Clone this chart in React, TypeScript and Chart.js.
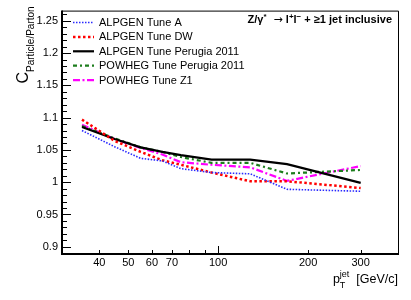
import React, { useEffect, useRef } from "react";
import { Chart, registerables } from "chart.js";

Chart.register(...registerables);

const FONT = "'Liberation Sans', Arial, Helvetica, sans-serif";

// jet pT bin positions (GeV/c)
const ptValues = [35, 45, 55, 65, 75, 95, 128, 170, 300];

// C_{Particle/Parton} per tune
const alpgenTuneA = [1.080, 1.055, 1.037, 1.033, 1.021, 1.015, 1.013, 0.989, 0.986];
const alpgenTuneDW = [1.097, 1.064, 1.047, 1.034, 1.027, 1.015, 1.0015, 1.0015, 0.991];
const alpgenPerugia = [1.0855, 1.067, 1.054, 1.047, 1.042, 1.035, 1.035, 1.028, 0.999];
const powhegPerugia = [1.087, 1.068, 1.054, 1.047, 1.039, 1.030, 1.030, 1.0135, 1.019];
const powhegZ1 = [1.089, 1.067, 1.053, 1.043, 1.031, 1.027, 1.023, 1.002, 1.025];

const seriesLabels = [
  "ALPGEN Tune A",
  "ALPGEN Tune DW",
  "ALPGEN Tune Perugia 2011",
  "POWHEG Tune Perugia 2011",
  "POWHEG Tune Z1",
];

const yTickValues = [0.9, 0.95, 1, 1.05, 1.1, 1.15, 1.2, 1.25];
const yTickLabels = ["0.9", "0.95", "1", "1.05", "1.1", "1.15", "1.2", "1.25"];
const xTickValues = [40, 50, 60, 70, 100, 200, 300];
const xTickLabels = ["40", "50", "60", "70", "100", "200", "300"];
const xMinorTickValues = [40, 50, 60, 70, 80, 90, 200, 300];
const xMajorTickValues = [100];

const styles = [
  { color: "#2a2aff", dash: [1.5, 1.5], width: 1.6 },
  { color: "#ff0000", dash: [2.5, 2.5], width: 2.5 },
  { color: "#000000", dash: [], width: 2.2 },
  { color: "#1d7d1d", dash: [4, 3, 2, 3], width: 2.2 },
  { color: "#ff00ff", dash: [7, 2.5, 2, 2.5], width: 2.2 },
];

const seriesValues = [alpgenTuneA, alpgenTuneDW, alpgenPerugia, powhegPerugia, powhegZ1];

type Seg = { t: string; mode?: "sup" | "sub"; weight?: string; family?: string };

function drawSegments(
  ctx: CanvasRenderingContext2D,
  segs: Seg[],
  xRight: number,
  baseline: number,
  size: number,
  weight: string
) {
  const small = Math.round(size * 0.72);
  const fontOf = (s: Seg) =>
    `${s.weight ?? weight} ${s.mode ? small : size}px ${s.family ?? FONT}`;
  const widthOf = (s: Seg) => {
    ctx.font = fontOf(s);
    return ctx.measureText(s.t).width;
  };
  const total = segs.reduce((acc, s) => acc + widthOf(s), 0);
  let x = xRight - total;
  ctx.textAlign = "left";
  ctx.textBaseline = "alphabetic";
  for (const s of segs) {
    const w = widthOf(s);
    ctx.font = fontOf(s);
    const dy = s.mode === "sup" ? -size * 0.4 : s.mode === "sub" ? size * 0.3 : 0;
    ctx.fillText(s.t, x, baseline + dy);
    x += w;
  }
}

const overlayPlugin = {
  id: "rootOverlay",
  afterDraw(chart: any) {
    const { ctx, chartArea: a, scales } = chart;
    const xs = scales.x;
    const ys = scales.y;
    ctx.save();
    ctx.strokeStyle = "#000";
    ctx.fillStyle = "#000";

    // frame
    ctx.lineWidth = 1;
    ctx.beginPath();
    ctx.moveTo(a.left, a.top + 0.5);
    ctx.lineTo(a.right + 0.5, a.top + 0.5);
    ctx.lineTo(a.right + 0.5, a.bottom);
    ctx.stroke();
    ctx.lineWidth = 2;
    ctx.beginPath();
    ctx.moveTo(a.left, a.top);
    ctx.lineTo(a.left, a.bottom);
    ctx.lineTo(a.right + 1, a.bottom);
    ctx.stroke();

    // y ticks (major on labels, minor every 0.01)
    ctx.lineWidth = 1;
    for (let i = 89; i <= 126; i++) {
      const v = i / 100;
      const py = Math.round(ys.getPixelForValue(v)) + 0.5;
      const major = i % 5 === 0;
      ctx.beginPath();
      ctx.moveTo(a.left, py);
      ctx.lineTo(a.left + (major ? 9 : 5), py);
      ctx.stroke();
    }

    // x ticks
    for (const v of xMinorTickValues) {
      const px = Math.round(xs.getPixelForValue(v)) + 0.5;
      ctx.beginPath();
      ctx.moveTo(px, a.bottom);
      ctx.lineTo(px, a.bottom - 4);
      ctx.stroke();
    }
    for (const v of xMajorTickValues) {
      const px = Math.round(xs.getPixelForValue(v)) + 0.5;
      ctx.beginPath();
      ctx.moveTo(px, a.bottom);
      ctx.lineTo(px, a.bottom - 8);
      ctx.stroke();
    }

    // legend
    const legendTop = 22.5;
    const legendStep = 14.4;
    seriesLabels.forEach((label, i) => {
      const st = styles[i];
      const ly = legendTop + i * legendStep;
      ctx.save();
      ctx.strokeStyle = st.color;
      ctx.lineWidth = st.width;
      ctx.setLineDash(st.dash);
      ctx.beginPath();
      ctx.moveTo(73, ly);
      ctx.lineTo(94, ly);
      ctx.stroke();
      ctx.restore();
      ctx.font = `11px ${FONT}`;
      ctx.textAlign = "left";
      ctx.textBaseline = "middle";
      ctx.fillText(label, 99, ly + 0.5);
    });

    // process label
    drawSegments(
      ctx,
      [
        { t: "Z/γ" },
        { t: "*", mode: "sup" },
        { t: "  →", weight: "normal", family: "'DejaVu Sans', sans-serif" },
        { t: " l" },
        { t: "+", mode: "sup" },
        { t: "l" },
        { t: "−", mode: "sup" },
        { t: " + ≥1 jet inclusive" },
      ],
      392,
      23,
      11,
      "bold"
    );

    // x-axis title: p_T^jet [GeV/c]
    {
      const size = 12.5;
      const small = 9;
      ctx.textBaseline = "alphabetic";
      ctx.textAlign = "left";
      ctx.font = `${size}px ${FONT}`;
      const unit = "  [GeV/c]";
      const wUnit = ctx.measureText(unit).width;
      const wP = ctx.measureText("p").width;
      ctx.font = `${small}px ${FONT}`;
      const wJet = ctx.measureText("jet").width;
      const baseline = 283;
      const xEnd = 398;
      const xUnit = xEnd - wUnit;
      const xSup = xUnit - wJet;
      const xP = xSup - wP;
      ctx.font = `${size}px ${FONT}`;
      ctx.fillText("p", xP, baseline);
      ctx.fillText(unit, xUnit, baseline);
      ctx.font = `${small}px ${FONT}`;
      ctx.fillText("jet", xSup, baseline - 6);
      ctx.fillText("T", xSup, baseline + 5);
    }

    // y-axis title: C_{Particle/Parton}
    {
      ctx.save();
      ctx.translate(27.5, 83.5);
      ctx.rotate(-Math.PI / 2);
      ctx.textAlign = "left";
      ctx.textBaseline = "alphabetic";
      ctx.font = `16px ${FONT}`;
      ctx.fillText("C", 0, 0);
      const wC = ctx.measureText("C").width;
      ctx.font = `10px ${FONT}`;
      ctx.fillText("Particle/Parton", wC, 6.5);
      ctx.restore();
    }

    ctx.restore();
  },
};

export default function App() {
  const canvasRef = useRef<HTMLCanvasElement | null>(null);

  useEffect(() => {
    const canvas = canvasRef.current;
    if (!canvas) return;
    const datasets = seriesLabels.map((label, i) => ({
      label,
      data: ptValues.map((x, j) => ({ x, y: seriesValues[i][j] })),
      borderColor: styles[i].color,
      backgroundColor: styles[i].color,
      borderWidth: styles[i].width,
      borderDash: styles[i].dash,
      pointRadius: 0,
      tension: 0,
      fill: false,
    }));
    const chart = new Chart(canvas, {
      type: "line",
      data: { datasets },
      options: {
        animation: false,
        responsive: false,
        devicePixelRatio: 1,
        layout: { padding: { top: 8, right: 13, left: 0, bottom: 0 } },
        plugins: { legend: { display: false }, tooltip: { enabled: false } },
        scales: {
          x: {
            type: "logarithmic",
            min: 30,
            max: 400,
            grid: { display: false, drawTicks: false },
            border: { display: false },
            afterBuildTicks: (s: any) => {
              s.ticks = xTickValues.map((v) => ({ value: v }));
            },
            afterFit: (s: any) => {
              s.height = 46;
            },
            ticks: {
              autoSkip: false,
              maxRotation: 0,
              minRotation: 0,
              padding: 2,
              color: "#000",
              font: { family: FONT, size: 11 },
              callback: (v: any) => {
                const i = xTickValues.indexOf(Number(v));
                return i >= 0 ? xTickLabels[i] : "";
              },
            },
          },
          y: {
            type: "linear",
            min: 0.8888,
            max: 1.2658,
            grid: { display: false, drawTicks: false },
            border: { display: false },
            afterBuildTicks: (s: any) => {
              s.ticks = yTickValues.map((v) => ({ value: v }));
            },
            afterFit: (s: any) => {
              s.width = 62;
            },
            ticks: {
              autoSkip: false,
              padding: 4,
              color: "#000",
              font: { family: FONT, size: 11 },
              callback: (v: any) => {
                const i = yTickValues.findIndex((t) => Math.abs(t - Number(v)) < 1e-6);
                return i >= 0 ? yTickLabels[i] : "";
              },
            },
          },
        },
      } as any,
      plugins: [overlayPlugin as any],
    });
    return () => chart.destroy();
  }, []);

  return (
    <div
      style={{
        position: "fixed",
        left: 0,
        top: 0,
        width: 411,
        height: 300,
        background: "#fff",
      }}
    >
      <canvas ref={canvasRef} width={411} height={300} style={{ display: "block" }} />
    </div>
  );
}
